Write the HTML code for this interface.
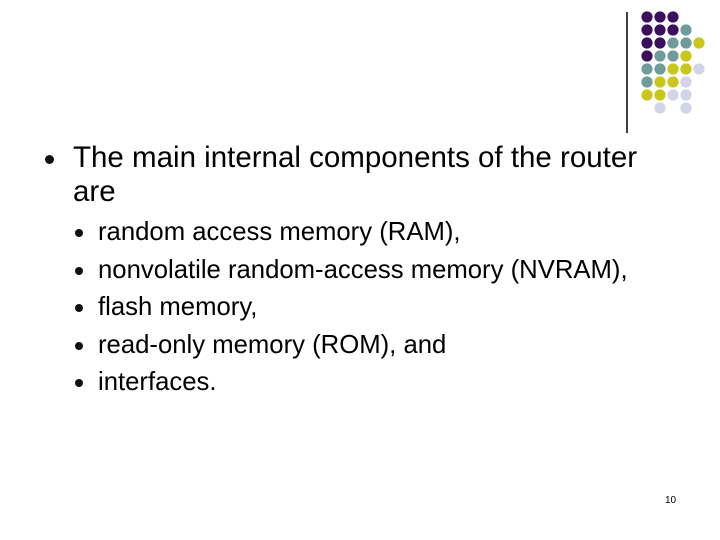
<!DOCTYPE html>
<html><head><style>
body{margin:0;width:720px;height:540px;background:#fff;position:relative;font-family:"Liberation Sans",sans-serif;color:#000;overflow:hidden}
.t{position:absolute;white-space:nowrap}
.b{position:absolute;border-radius:50%;background:#111}
</style></head><body>
<svg width="720" height="540" style="position:absolute;left:0;top:0">
<line x1="627" y1="12" x2="627" y2="133" stroke="#000" stroke-width="1.5"/>
<g id="d"></g>
</svg>
<script>
var P="#3b0f5e",T="#6f9b9b",Y="#c9c71c",L="#d4d4e8";
var g=[[P,P,P],[P,P,P,T],[P,P,T,T,Y],[P,T,T,Y],[T,T,Y,Y,L],[T,Y,Y,L],[Y,Y,L,L],[0,L,0,L]];
var s="";g.forEach(function(r,i){r.forEach(function(c,j){if(c)s+='<circle cx="'+(647+13*j)+'" cy="'+(17+13*i)+'" r="5.6" fill="'+c+'"/>';});});
document.getElementById("d").innerHTML=s;
</script>
<div class="b" style="left:45px;top:155px;width:9px;height:9px"></div>
<div class="t" style="left:73px;top:141px;font-size:29.5px;line-height:34px">The main internal components of the router<br>are</div>
<div class="b" style="left:75px;top:229px;width:8px;height:8px"></div>
<div class="b" style="left:75px;top:267px;width:8px;height:8px"></div>
<div class="b" style="left:75px;top:304px;width:8px;height:8px"></div>
<div class="b" style="left:75px;top:342px;width:8px;height:8px"></div>
<div class="b" style="left:75px;top:379px;width:8px;height:8px"></div>
<div class="t" style="left:98px;top:214px;font-size:25.7px;line-height:37.5px">random access memory (RAM),<br>nonvolatile random-access memory (NVRAM),<br>flash memory,<br>read-only memory (ROM), and<br>interfaces.</div>
<div class="t" style="left:665px;top:495px;font-size:10px">10</div>
</body></html>
